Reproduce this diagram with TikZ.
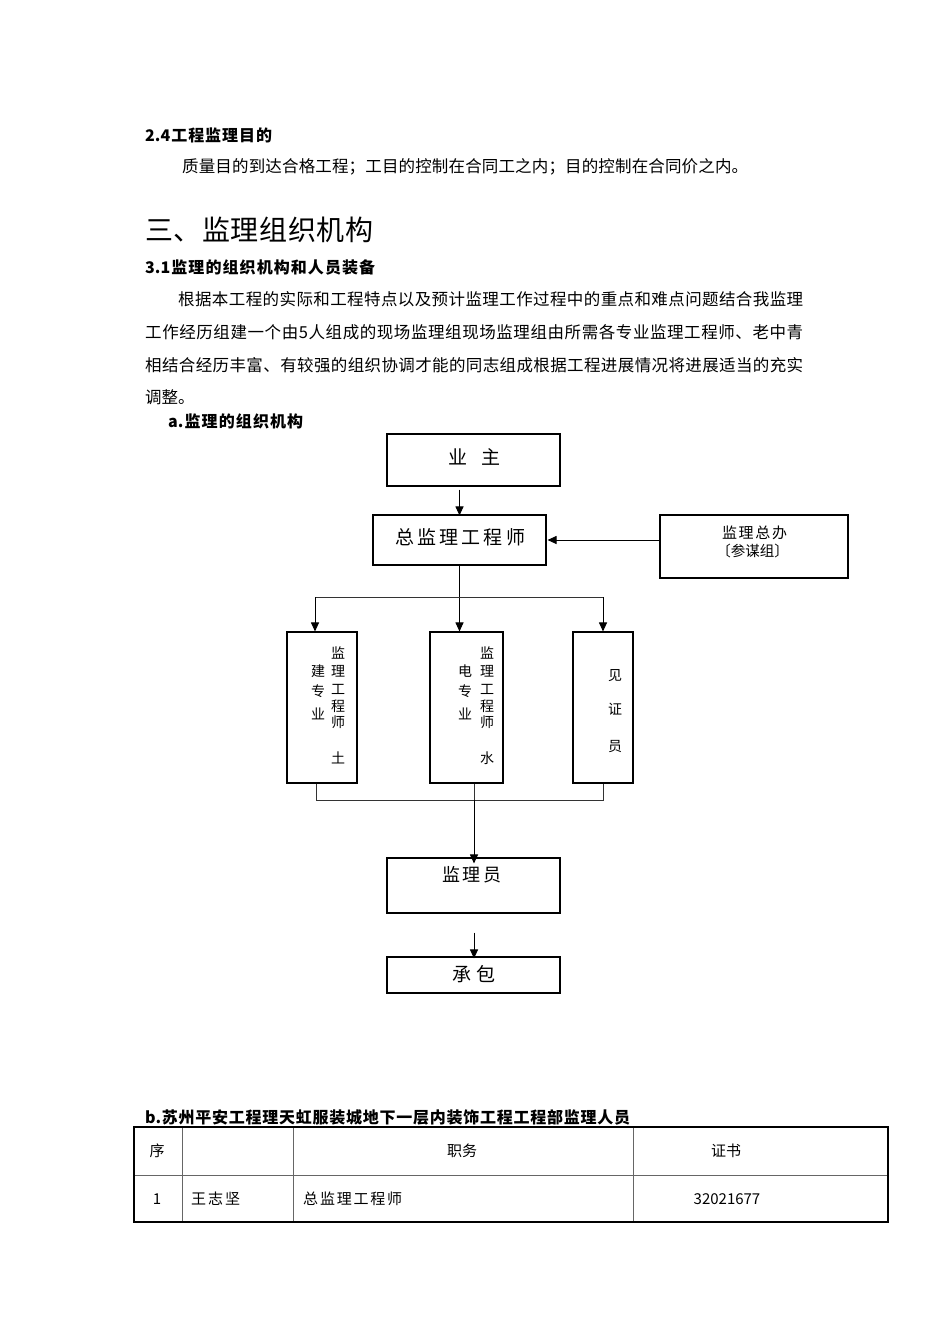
\documentclass[tikz,border=0pt]{standalone}
\usepackage{fontspec}
\setmainfont{Noto Sans CJK SC}
\usetikzlibrary{arrows.meta}
\newcommand\fsz[1]{\fontsize{#1}{#1}\selectfont}
\makeatletter
\def\spr@end{\spr@end}
\def\spr@i#1{\ifx#1\spr@end\else #1\expandafter\spr@ii\fi}
\def\spr@ii#1{\ifx#1\spr@end\else\hfil #1\expandafter\spr@ii\fi}
\newcommand\fitto[2]{\hbox to #1{\spr@i#2\spr@end}}
\makeatother
\begin{document}
\begin{tikzpicture}[x=1pt,y=-1pt,
  txt/.style={inner sep=0pt, anchor=west, text=black},
  ctxt/.style={inner sep=0pt, anchor=center, text=black},
  box/.style={draw, line width=1.1pt, inner sep=0pt},
  arr/.style={-{Triangle[length=9pt,width=8pt]}, line width=1pt},
  conn/.style={line width=1pt, draw=black!80},
  vch/.style={inner sep=0pt, anchor=center, font=\fsz{14}},
  tab/.style={inner sep=0pt, font=\fsz{15}},
  outer/.style={line width=1.6pt},
  inner/.style={line width=0.8pt, draw=black!60}
]
\fill[white] (0,0) rectangle (950,1344);
\useasboundingbox (0,0) rectangle (950,1344);

% ---- text above ----
\node[txt, font=\fsz{16}\bfseries] (h24) at (145,135) {\fitto{127pt}{{2.4}工程监理目的}};
\node[txt, font=\fsz{16.5}] (p24) at (182,167) {\fitto{566pt}{质量目的到达合格工程；工目的控制在合同工之内；目的控制在合同价之内。}};
\node[txt, font=\fsz{28}] (h3) at (145,230) {\fitto{228pt}{三、监理组织机构}};
\node[txt, font=\fsz{16}\bfseries] (h31) at (145,267) {\fitto{230pt}{{3.1}监理的组织机构和人员装备}};
\node[txt, font=\fsz{16.5}] (pl1) at (178,299) {\fitto{625pt}{根据本工程的实际和工程特点以及预计监理工作过程中的重点和难点问题结合我监理}};
\node[txt, font=\fsz{16.5}] (pl2) at (145,332) {\fitto{658pt}{工作经历组建一个由5人组成的现场监理组现场监理组由所需各专业监理工程师、老中青}};
\node[txt, font=\fsz{16.5}] (pl3) at (145,365) {\fitto{658pt}{相结合经历丰富、有较强的组织协调才能的同志组成根据工程进展情况将进展适当的充实}};
\node[txt, font=\fsz{16.5}] (pl4) at (145,397) {调整。};
\node[txt, font=\fsz{16}\bfseries] (ha) at (168,421) {\fitto{135pt}{{a.}监理的组织机构}};

% ---- boxes ----
\node[box, minimum width=173pt, minimum height=52pt] (yz) at (473.5,460) {};
\node[box, minimum width=173pt, minimum height=50pt] (zj) at (459.5,540) {};
\node[box, minimum width=188pt, minimum height=63pt] (zb) at (754,546.5) {};
\node[box, minimum width=70pt, minimum height=151pt] (b1) at (322,707.5) {};
\node[box, minimum width=73pt, minimum height=151pt] (b2) at (466.5,707.5) {};
\node[box, minimum width=60pt, minimum height=151pt] (b3) at (603,707.5) {};
\node[box, minimum width=173pt, minimum height=55pt] (jly) at (473.5,885.5) {};
\node[box, minimum width=173pt, minimum height=36pt] (cb) at (473.5,975) {};

% ---- box texts ----
\node[ctxt, font=\fsz{19}] (tyz) at (474.5,457) {\fitto{53pt}{业主}};
\node[ctxt, font=\fsz{19}] (tzj) at (460,537) {\fitto{130pt}{总监理工程师}};
\node[ctxt, font=\fsz{15}] (tzb1) at (754.5,533) {\fitto{65pt}{监理总办}};
\node[ctxt, font=\fsz{14.5}] (tzb2) at (752.5,551) {〔参谋组〕};
\node[ctxt, font=\fsz{18}] (tjly) at (472,875) {\fitto{60pt}{监理员}};
\node[ctxt, font=\fsz{19}] (tcb) at (473.5,974) {\fitto{43pt}{承包}};

% vertical text box 1
\node[vch] (v11) at (338,653) {监};
\node[vch] (v12) at (338,671) {理};
\node[vch] (v13) at (338,689) {工};
\node[vch] (v14) at (338,706) {程};
\node[vch] (v15) at (338,722) {师};
\node[vch] (v16) at (338,758) {土};
\node[vch] (v17) at (318,671) {建};
\node[vch] (v18) at (318,691) {专};
\node[vch] (v19) at (318,714) {业};
% vertical text box 2
\node[vch] (v21) at (487,653) {监};
\node[vch] (v22) at (487,671) {理};
\node[vch] (v23) at (487,689) {工};
\node[vch] (v24) at (487,706) {程};
\node[vch] (v25) at (487,722) {师};
\node[vch] (v26) at (487,758) {水};
\node[vch] (v27) at (465,671) {电};
\node[vch] (v28) at (465,691) {专};
\node[vch] (v29) at (465,714) {业};
% vertical text box 3
\node[vch] (v31) at (615,676) {见};
\node[vch] (v32) at (615,709) {证};
\node[vch] (v33) at (615,747) {员};

% ---- connectors ----
\coordinate (a1) at (315,597);
\coordinate (a3) at (603,597);
\coordinate (c1) at (316,800);
\coordinate (c3) at (603,800);
\coordinate (cm) at (474,800);

\draw[arr] (yz.south -| zj.north) ++(0,3) -- ([yshift=-1pt]zj.north);
\draw[arr] (zb.west |- zj.east) -- ([xshift=1pt]zj.east);
\draw[arr] (zj.south) -- (zj.south |- b2.north);
\draw[conn] (a1) -- (a3);
\draw[arr] (a1) -- (a1 |- b1.north);
\draw[arr] (a3) -- (a3 |- b3.north);
\draw[conn] (b1.south -| c1) -- (c1) -- (c3) -- (b3.south);
\draw[conn] (b2.south -| cm) -- (cm);
\draw[arr] (cm) -- ([yshift=-6pt]jly.north -| cm);
\draw[arr] (jly.south -| cm) ++(0,19) -- ([yshift=-2pt]cb.north -| cm);

% ---- table ----
\node[txt, font=\fsz{16}\bfseries] (hb) at (145,1117) {\fitto{485pt}{{b.}苏州平安工程理天虹服装城地下一层内装饰工程工程部监理人员}};
\draw[inner] (134,1175) -- (888,1175);
\draw[inner] (182,1127) -- (182,1222);
\draw[inner] (293,1127) -- (293,1222);
\draw[inner] (633,1127) -- (633,1222);
\draw[outer] (134,1127) rectangle (888,1222);
\node[tab, anchor=center] (t11) at (157,1151) {序};
\node[tab, anchor=center] (t13) at (462,1151) {职务};
\node[tab, anchor=center] (t14) at (726,1151) {证书};
\node[tab, anchor=center] (t21) at (157,1199) {1};
\node[tab, anchor=west] (t22) at (191,1199) {\fitto{49pt}{王志坚}};
\node[tab, anchor=west] (t23) at (303,1199) {\fitto{99pt}{总监理工程师}};
\node[tab, anchor=center] (t24) at (727,1199) {32021677};
\end{tikzpicture}
\end{document}
